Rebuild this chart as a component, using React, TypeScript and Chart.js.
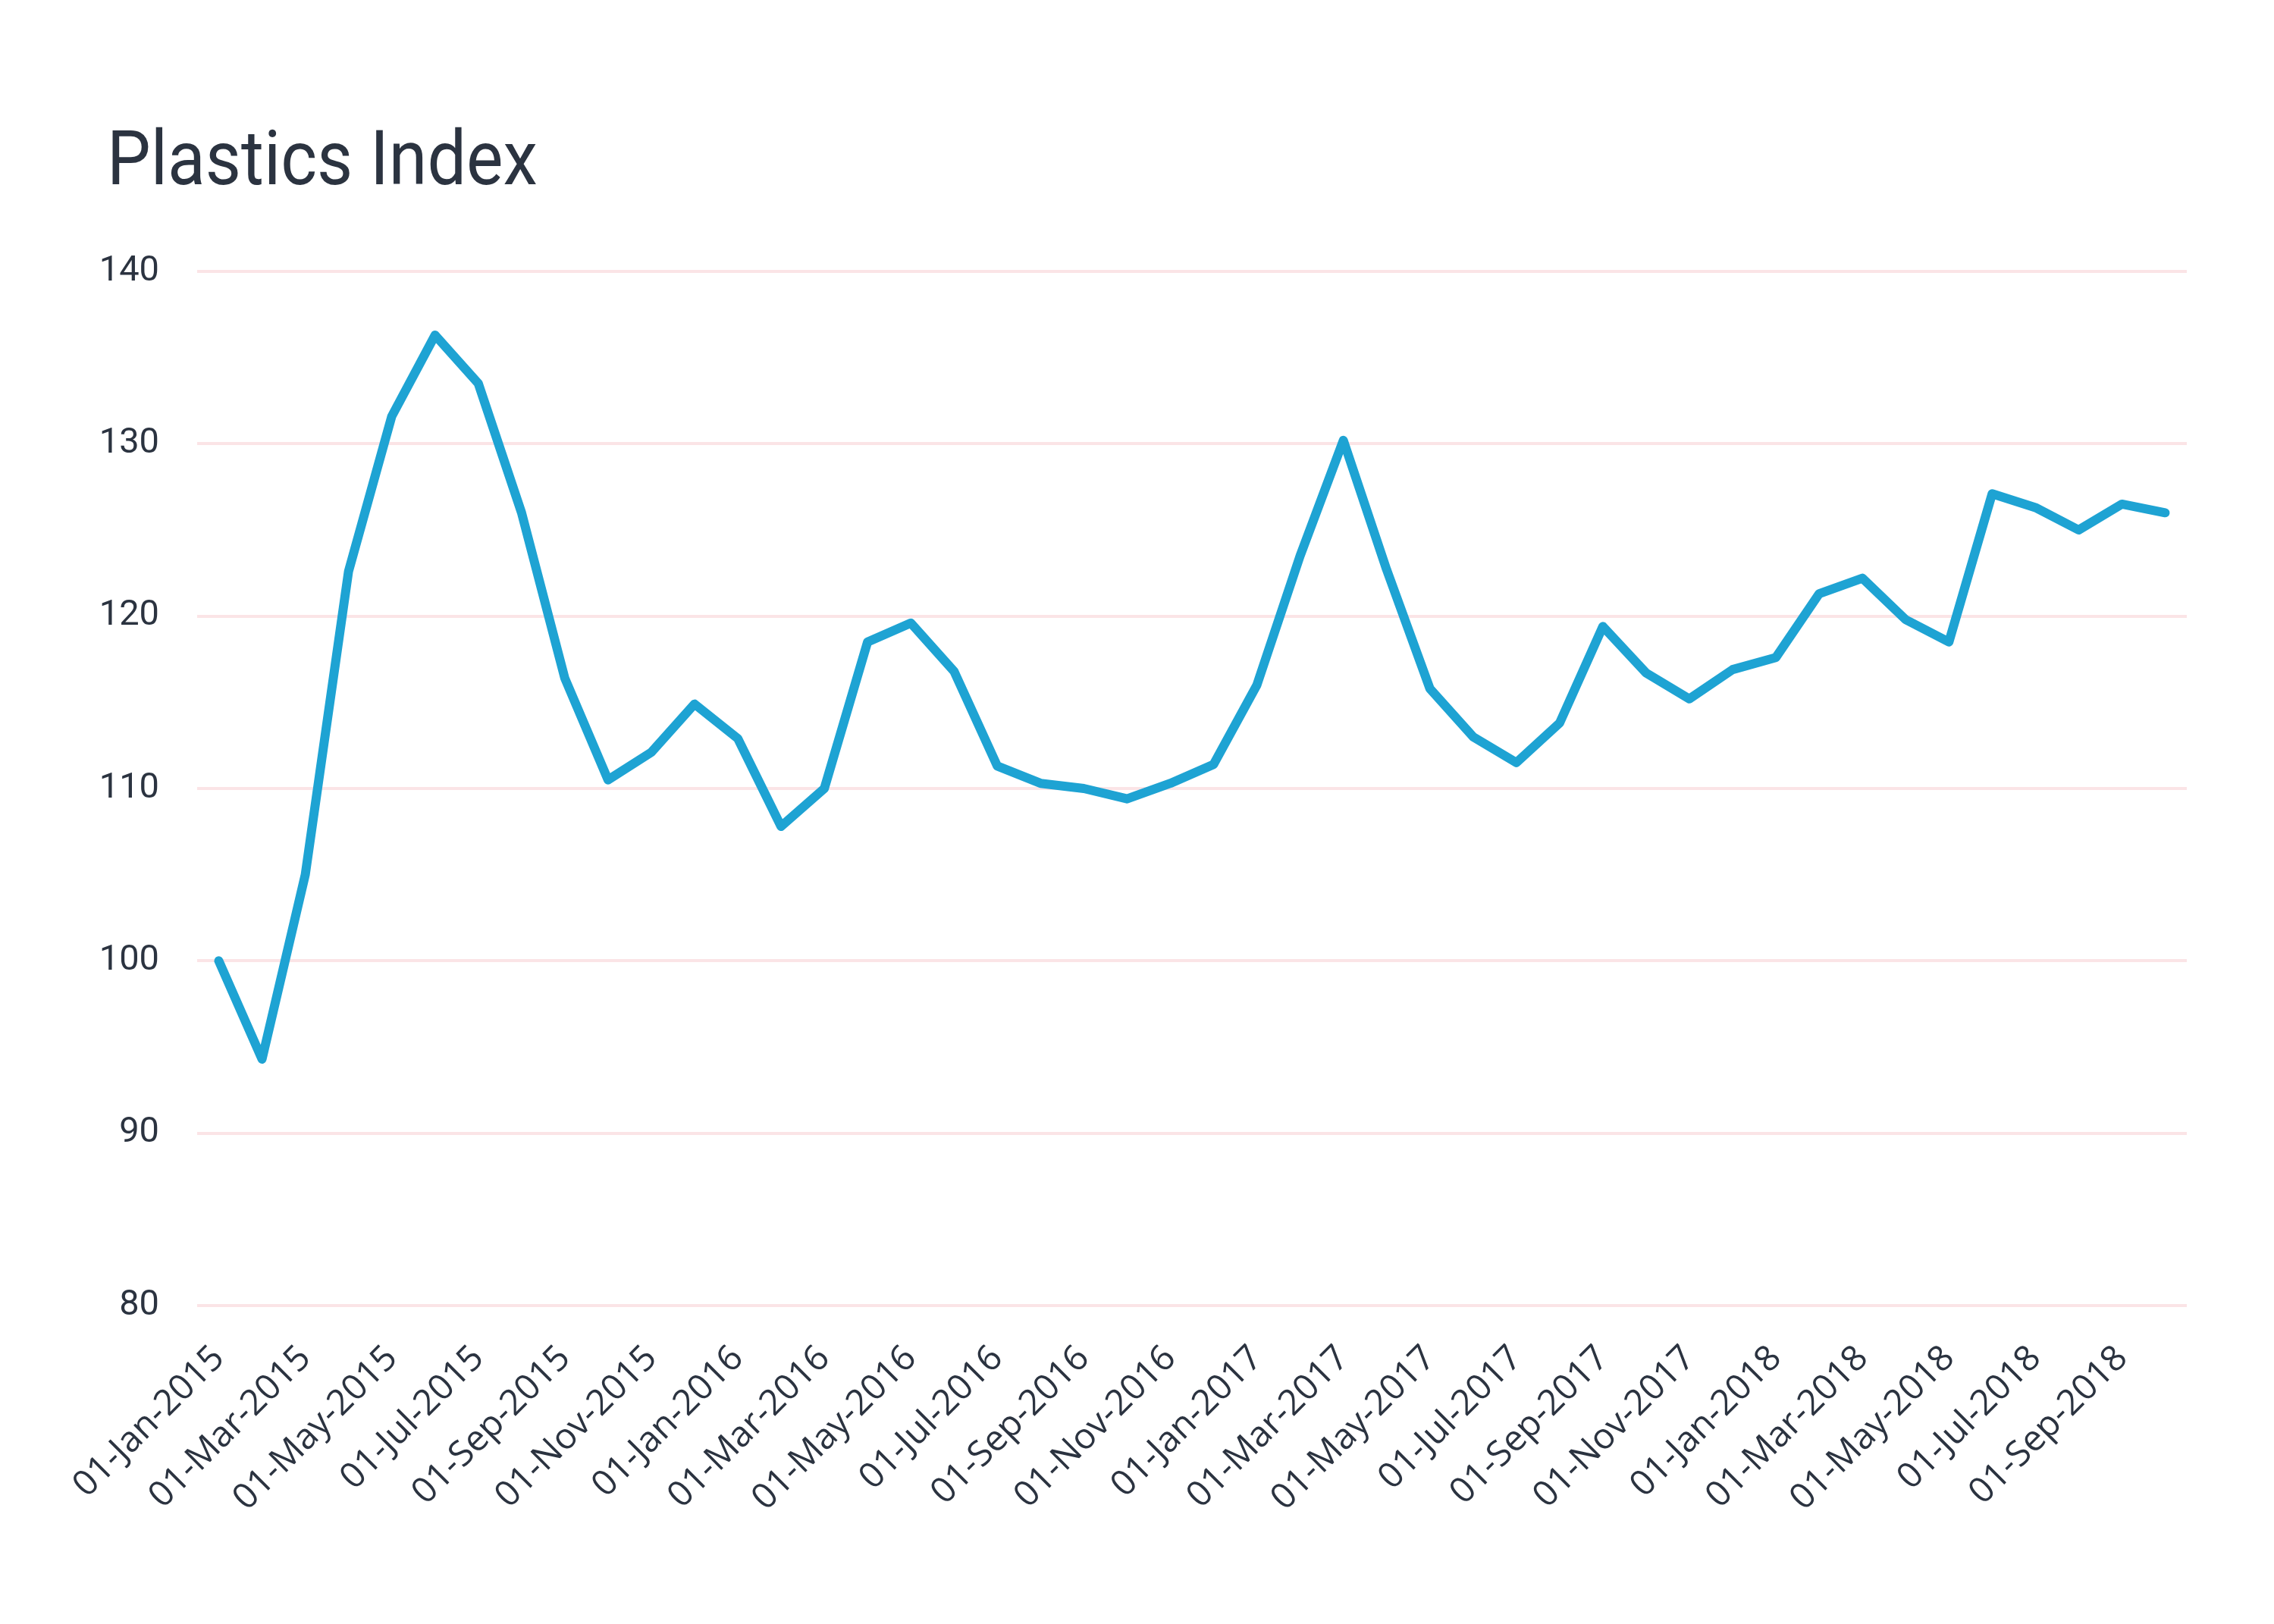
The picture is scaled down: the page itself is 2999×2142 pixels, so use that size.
import React, { useEffect, useRef } from "react";
import { Chart, registerables } from "chart.js";

Chart.register(...registerables);

const title = "Plastics Index";

const dateLabels: string[] = [
  "01-Jan-2015", "01-Feb-2015", "01-Mar-2015", "01-Apr-2015", "01-May-2015", "01-Jun-2015",
  "01-Jul-2015", "01-Aug-2015", "01-Sep-2015", "01-Oct-2015", "01-Nov-2015", "01-Dec-2015",
  "01-Jan-2016", "01-Feb-2016", "01-Mar-2016", "01-Apr-2016", "01-May-2016", "01-Jun-2016",
  "01-Jul-2016", "01-Aug-2016", "01-Sep-2016", "01-Oct-2016", "01-Nov-2016", "01-Dec-2016",
  "01-Jan-2017", "01-Feb-2017", "01-Mar-2017", "01-Apr-2017", "01-May-2017", "01-Jun-2017",
  "01-Jul-2017", "01-Aug-2017", "01-Sep-2017", "01-Oct-2017", "01-Nov-2017", "01-Dec-2017",
  "01-Jan-2018", "01-Feb-2018", "01-Mar-2018", "01-Apr-2018", "01-May-2018", "01-Jun-2018",
  "01-Jul-2018", "01-Aug-2018", "01-Sep-2018", "01-Oct-2018",
];

const indexValues: number[] = [
  100, 94.3, 105, 122.6, 131.6, 136.3,
  133.5, 126, 116.4, 110.5, 112.1, 114.9,
  112.9, 107.8, 110, 118.5, 119.6, 116.8,
  111.3, 110.3, 110.0, 109.4, 110.3, 111.4,
  116, 123.5, 130.2, 122.7, 115.8, 113,
  111.5, 113.8, 119.4, 116.7, 115.2, 116.9,
  117.6, 121.3, 122.2, 119.8, 118.5, 127.1,
  126.3, 125, 126.5, 126,
];

const yTicks: number[] = [80, 90, 100, 110, 120, 130, 140];

const TEXT = "#2b3340";

export default function App() {
  const ref = useRef<HTMLCanvasElement>(null);
  useEffect(() => {
    if (!ref.current) return;
    const chart = new Chart(ref.current, {
      type: "line",
      data: {
        labels: dateLabels,
        datasets: [
          {
            label: title,
            data: indexValues,
            borderColor: "#1ea3d3",
            backgroundColor: "#1ea3d3",
            borderWidth: 12,
            pointRadius: 0,
            tension: 0,
            borderJoinStyle: "round",
            borderCapStyle: "round",
          },
        ],
      },
      options: {
        animation: false,
        responsive: false,
        maintainAspectRatio: false,
        layout: { padding: { left: 0, right: 115, top: 358, bottom: 120 } },
        plugins: { legend: { display: false }, tooltip: { enabled: false }, title: { display: false } },
        scales: {
          x: {
            offset: true,
            grid: { display: false, drawTicks: false },
            border: { display: false },
            afterFit: (s: any) => { s.height = 300; },
            ticks: {
              autoSkip: false,
              minRotation: 45,
              maxRotation: 45,
              padding: 42,
              color: TEXT,
              font: { family: "'Open Sans'", size: 47 },
              callback: (_v: any, i: number) => (i % 2 === 0 ? dateLabels[i] : ""),
            },
          },
          y: {
            min: yTicks[0],
            max: yTicks[yTicks.length - 1],
            grid: { color: "#fbe4e6", lineWidth: 4, drawTicks: false },
            border: { display: false },
            afterFit: (s: any) => { s.width = 260; },
            afterBuildTicks: (s: any) => { s.ticks = yTicks.map((v) => ({ value: v })); },
            ticks: {
              padding: 50,
              color: TEXT,
              font: { family: "Roboto", size: 47 },
            },
          },
        },
      },
    });
    return () => chart.destroy();
  }, []);
  return (
    <div style={{ position: "absolute", left: 0, top: 0, width: 2999, height: 2142, background: "#fff" }}>
      <div
        style={{
          position: "absolute",
          left: 141,
          top: 159,
          font: "400 100px Roboto",
          lineHeight: 1,
          color: TEXT,
          whiteSpace: "nowrap",
          transform: "scaleX(0.915)",
          transformOrigin: "0 0",
        }}
      >
        {title}
      </div>
      <canvas ref={ref} width={2999} height={2142} style={{ position: "absolute", left: 0, top: 0 }} />
    </div>
  );
}
